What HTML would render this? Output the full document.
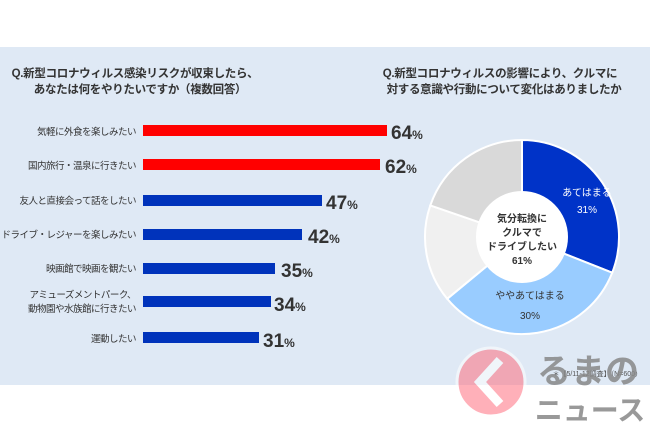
<!DOCTYPE html>
<html><head><meta charset="utf-8"><style>
body{margin:0;width:650px;height:433px;overflow:hidden;background:#fff;font-family:"Liberation Sans","Noto Sans CJK JP",sans-serif}
</style></head><body>
<svg width="650" height="433" xmlns="http://www.w3.org/2000/svg" font-family="Liberation Sans, Noto Sans CJK JP, sans-serif">
<rect x="0" y="47" width="650" height="338" fill="#dfe9f5"/>
<g font-size="11.5" font-weight="bold" fill="#333" text-anchor="middle" letter-spacing="-0.3">
<text x="135" y="77">Q.新型コロナウィルス感染リスクが収束したら、</text>
<text x="140" y="93">あなたは何をやりたいですか（複数回答）</text>
<text x="500" y="77">Q.新型コロナウィルスの影響により、クルマに</text>
<text x="504" y="93">対する意識や行動について変化はありましたか</text>
</g>
<g font-size="9.5" fill="#333" text-anchor="end" letter-spacing="-0.5">
<text x="136" y="135">気軽に外食を楽しみたい</text>
<text x="136" y="169">国内旅行・温泉に行きたい</text>
<text x="136" y="204">友人と直接会って話をしたい</text>
<text x="136" y="238">ドライブ・レジャーを楽しみたい</text>
<text x="136" y="272">映画館で映画を観たい</text>
<text x="136" y="298">アミューズメントパーク、</text>
<text x="136" y="312">動物園や水族館に行きたい</text>
<text x="136" y="342">運動したい</text>
</g>
<rect x="143" y="125" width="244" height="11" fill="#ff0000"/>
<rect x="143" y="159" width="237" height="11" fill="#ff0000"/>
<rect x="143" y="195" width="179" height="11" fill="#0033bb"/>
<rect x="143" y="229" width="159" height="11" fill="#0033bb"/>
<rect x="143" y="263" width="132" height="11" fill="#0033bb"/>
<rect x="143" y="296" width="128" height="11" fill="#0033bb"/>
<rect x="143" y="332" width="116" height="11" fill="#0033bb"/>
<g font-weight="bold" fill="#333" font-size="19">
<text x="391" y="139">64<tspan font-size="12">%</tspan></text>
<text x="385" y="173">62<tspan font-size="12">%</tspan></text>
<text x="326" y="209">47<tspan font-size="12">%</tspan></text>
<text x="308" y="243">42<tspan font-size="12">%</tspan></text>
<text x="281" y="277">35<tspan font-size="12">%</tspan></text>
<text x="274" y="311">34<tspan font-size="12">%</tspan></text>
<text x="263" y="347">31<tspan font-size="12">%</tspan></text>
</g>
<g stroke="#fff" stroke-width="2">
<path d="M522,237 L522,140 A97,97 0 0 1 612.2,272.7 Z" fill="#0033c8"/>
<path d="M522,237 L612.2,272.7 A97,97 0 0 1 447.2,298.8 Z" fill="#99ccff"/>
<path d="M522,237 L447.2,298.8 A97,97 0 0 1 430.3,205.4 Z" fill="#f0f0f0"/>
<path d="M522,237 L430.3,205.4 A97,97 0 0 1 522,140 Z" fill="#d9d9d9"/>
</g>
<circle cx="522" cy="237" r="46" fill="#fff"/>
<g font-size="10" font-weight="bold" fill="#333" text-anchor="middle">
<text x="522" y="222">気分転換に</text>
<text x="522" y="236">クルマで</text>
<text x="522" y="250">ドライブしたい</text>
<text x="522" y="264">61%</text>
</g>
<g font-size="10" fill="#fff" text-anchor="middle">
<text x="587" y="196">あてはまる</text>
<text x="587" y="213">31%</text>
</g>
<g font-size="10" fill="#333" text-anchor="middle">
<text x="530" y="299">ややあてはまる</text>
<text x="530" y="319">30%</text>
</g>
<text x="642" y="376" font-size="7" fill="#555" text-anchor="end">＊【5/11-12調査】（N=600）</text>
<g opacity="0.55">
<circle cx="491" cy="382" r="34" fill="#ff7080" stroke="#fff" stroke-width="3"/>
<path d="M500,360 L480,382 L500,404" stroke="#fff" stroke-width="9" fill="none"/>
</g>
<g font-weight="bold" fill="#888" opacity="0.85" text-anchor="middle">
<text x="588" y="383" font-size="34">るまの</text>
<text x="590" y="420" font-size="28">ニュース</text>
</g>
</svg>
</body></html>
